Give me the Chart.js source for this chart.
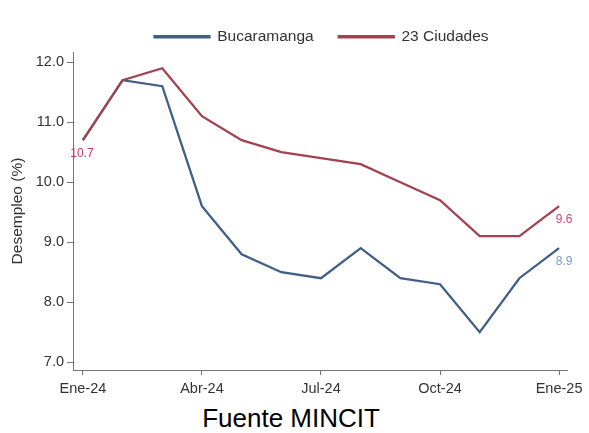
<!DOCTYPE html>
<html>
<head>
<meta charset="utf-8">
<script src="https://cdn.jsdelivr.net/npm/chart.js@4.4.1/dist/chart.umd.min.js"></script>
<style>
  html, body { margin: 0; padding: 0; background: #fff; }
  #wrap { position: relative; width: 589px; height: 433px; overflow: hidden; }
  #chart-box { position: absolute; left: 0; top: 0; width: 589px; height: 397px; }
  #source {
    position: absolute; left: 0; width: 582px; top: 403px;
    text-align: center; font-family: "Liberation Sans", Arial, sans-serif;
    font-size: 26px; line-height: 30px; color: #000;
  }
</style>
</head>
<body>
<div id="wrap">
  <div id="chart-box"><canvas id="desempleoChart"></canvas></div>
  <div id="source">Fuente MINCIT</div>
</div>
<script>
// ==========================================
// DATA: monthly unemployment rate (%)
// ==========================================
const months = ["Ene-24", "Feb-24", "Mar-24", "Abr-24", "May-24", "Jun-24", "Jul-24",
                "Ago-24", "Sep-24", "Oct-24", "Nov-24", "Dic-24", "Ene-25"];
const bucaramanga = [10.7, 11.7, 11.6, 9.6, 8.8, 8.5, 8.4, 8.9, 8.4, 8.3, 7.5, 8.4, 8.9];
const ciudades23  = [10.7, 11.7, 11.9, 11.1, 10.7, 10.5, 10.4, 10.3, 10.0, 9.7, 9.1, 9.1, 9.6];
const xTickIdx = [0, 3, 6, 9, 12];
const yTicks = [7, 8, 9, 10, 11, 12];

const FONT = '"Liberation Sans", Arial, sans-serif';
const BLUE = '#3f5f86';
const RED = '#a4414e';

// turn the arrays into {x, y} points on a linear month axis
function toPoints(arr) {
    return arr.map((v, i) => ({ x: i, y: v }));
}

// Legend: fixed height block, shifted a bit to the right
const legendSpace = {
    id: 'legendSpace',
    beforeInit(chart) {
        const origFit = chart.legend.fit;
        chart.legend.fit = function () {
            origFit.call(this);
            this.height = 48;
        };
    },
    afterLayout(chart) {
        chart.legend.left += 38;
        chart.legend.right += 38;
    }
};

// Value labels: first point of 23 Ciudades, last point of both series
const valueLabels = {
    id: 'valueLabels',
    afterDatasetsDraw(chart) {
        const ctx = chart.ctx;
        const xs = chart.scales.x, ys = chart.scales.y;
        const last = months.length - 1;
        const labels = [
            { v: ciudades23[0], i: 0, dx: -1, color: '#c8325c' },
            { v: ciudades23[last], i: last, dx: 5, color: '#d9406c' },
            { v: bucaramanga[last], i: last, dx: 5, color: '#7f9cc0' }
        ];
        ctx.save();
        ctx.font = '12px ' + FONT;
        ctx.textAlign = 'center';
        ctx.textBaseline = 'middle';
        labels.forEach(l => {
            ctx.fillStyle = l.color;
            ctx.fillText(l.v.toFixed(1), xs.getPixelForValue(l.i) + l.dx, ys.getPixelForValue(l.v) + 13);
        });
        ctx.restore();
    }
};

const ctx = document.getElementById('desempleoChart').getContext('2d');
new Chart(ctx, {
    type: 'line',
    data: {
        datasets: [
            {
                label: 'Bucaramanga',
                data: toPoints(bucaramanga),
                borderColor: BLUE,
                backgroundColor: BLUE,
                borderWidth: 2.3,
                pointRadius: 0,
                tension: 0,
                order: 2
            },
            {
                label: '23 Ciudades',
                data: toPoints(ciudades23),
                borderColor: RED,
                backgroundColor: RED,
                borderWidth: 2.3,
                pointRadius: 0,
                tension: 0,
                order: 1
            }
        ]
    },
    options: {
        responsive: true,
        maintainAspectRatio: false,
        animation: false,
        layout: { padding: { top: 4, right: 22, left: 0, bottom: 0 } },
        plugins: {
            legend: {
                position: 'top',
                labels: {
                    boxWidth: 55,
                    boxHeight: 1,
                    padding: 25,
                    color: '#333',
                    font: { family: FONT, size: 15.5 },
                    sort: (a, b) => a.datasetIndex - b.datasetIndex
                }
            },
            tooltip: { enabled: false }
        },
        scales: {
            x: {
                type: 'linear',
                min: -0.25,
                max: 12.2,
                afterBuildTicks: s => { s.ticks = xTickIdx.map(v => ({ value: v })); },
                afterFit: s => { s.height = 27; },
                grid: { drawOnChartArea: false, drawTicks: true, tickLength: 5, color: '#777' },
                border: { display: true, color: '#777', width: 1 },
                ticks: {
                    color: '#333',
                    padding: 5,
                    maxRotation: 0,
                    font: { family: FONT, size: 14.5 },
                    callback: v => months[v]
                }
            },
            y: {
                min: 6.87,
                max: 12.17,
                afterBuildTicks: s => { s.ticks = yTicks.map(v => ({ value: v })); },
                afterFit: s => { s.width = 73; },
                grid: { drawOnChartArea: false, drawTicks: true, tickLength: 6, color: '#777' },
                border: { display: true, color: '#777', width: 1 },
                title: {
                    display: true,
                    text: 'Desempleo (%)',
                    color: '#333',
                    font: { family: FONT, size: 15.5 },
                    padding: { top: 8, bottom: 0 }
                },
                ticks: {
                    color: '#333',
                    padding: 3,
                    font: { family: FONT, size: 14.5 },
                    callback: v => v.toFixed(1)
                }
            }
        }
    },
    plugins: [legendSpace, valueLabels]
});
</script>
</body>
</html>
